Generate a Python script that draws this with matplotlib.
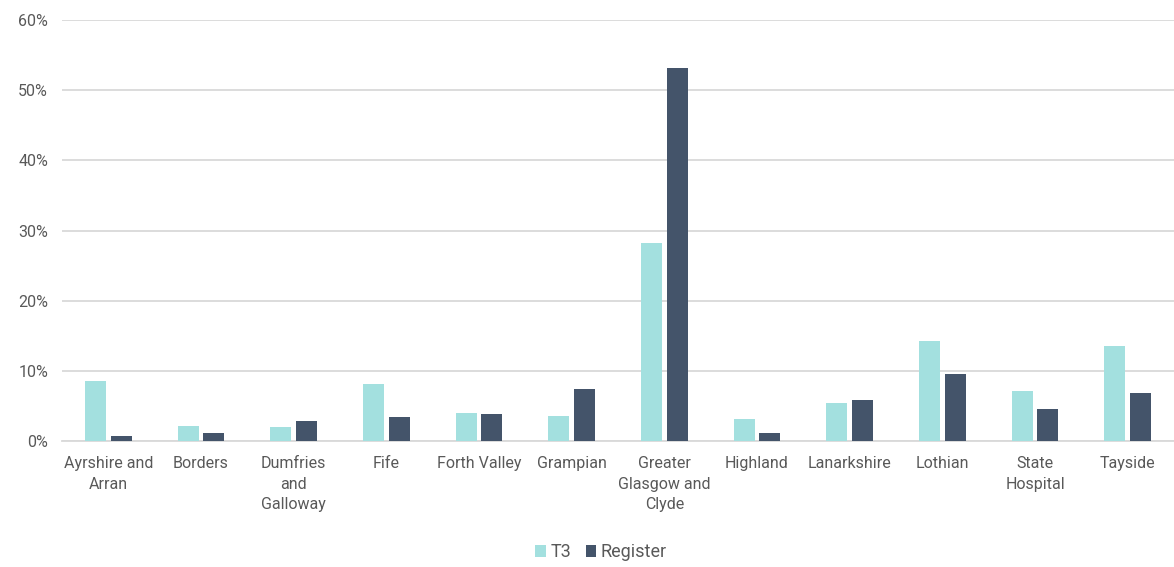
import matplotlib
matplotlib.use("Agg")
import matplotlib.pyplot as plt
import numpy as np
from matplotlib.ticker import PercentFormatter

regions = ["Ayrshire and\nArran", "Borders", "Dumfries\nand\nGalloway", "Fife",
           "Forth Valley", "Grampian", "Greater\nGlasgow and\nClyde", "Highland",
           "Lanarkshire", "Lothian", "State\nHospital", "Tayside"]
t3 = [8.5, 2.2, 2.0, 8.1, 4.0, 3.6, 28.2, 3.2, 5.5, 14.2, 7.1, 13.6]
register = [0.7, 1.1, 2.8, 3.4, 3.8, 7.5, 53.2, 1.1, 5.8, 9.5, 4.6, 6.9]
yticks = [0, 10, 20, 30, 40, 50, 60]

plt.rcParams['font.family'] = ['Roboto', 'DejaVu Sans']
text_color = '#595959'
grid_color = '#D9D9D9'

fig = plt.figure(figsize=(11.74, 5.67), dpi=100)
ax = fig.add_axes([0.0528, 0.222, 0.9472, 0.7425])

x = np.arange(len(regions))
w = 0.227
gap = 0.05
ax.bar(x - (w + gap) / 2, t3, w, color='#A3E0DF', label='T3', zorder=3)
ax.bar(x + (w + gap) / 2, register, w, color='#44546A', label='Register', zorder=3)

ax.set_xlim(-0.5, len(regions) - 0.5)
ax.set_ylim(0, 60)
ax.set_yticks(yticks)
ax.yaxis.set_major_formatter(PercentFormatter(decimals=0))
ax.yaxis.grid(True, color=grid_color, linewidth=1.3, zorder=0)
ax.set_axisbelow(True)

ax.set_xticks(x)
ax.set_xticklabels(regions, linespacing=1.45)
ax.tick_params(axis='both', length=0, labelsize=11.5, colors=text_color)
ax.tick_params(axis='x', pad=11)
ax.tick_params(axis='y', pad=10)

for side in ['top', 'right', 'left']:
    ax.spines[side].set_visible(False)
ax.spines['bottom'].set_color(grid_color)
ax.spines['bottom'].set_linewidth(1.3)

leg = fig.legend(loc='center', bbox_to_anchor=(0.512, 0.026), ncol=2, frameon=False,
                 fontsize=13, handlelength=0.6, handleheight=0.6, handletextpad=0.25,
                 columnspacing=0.8)
for t in leg.get_texts():
    t.set_color(text_color)

fig.savefig('out.png', dpi=100, facecolor='white')
